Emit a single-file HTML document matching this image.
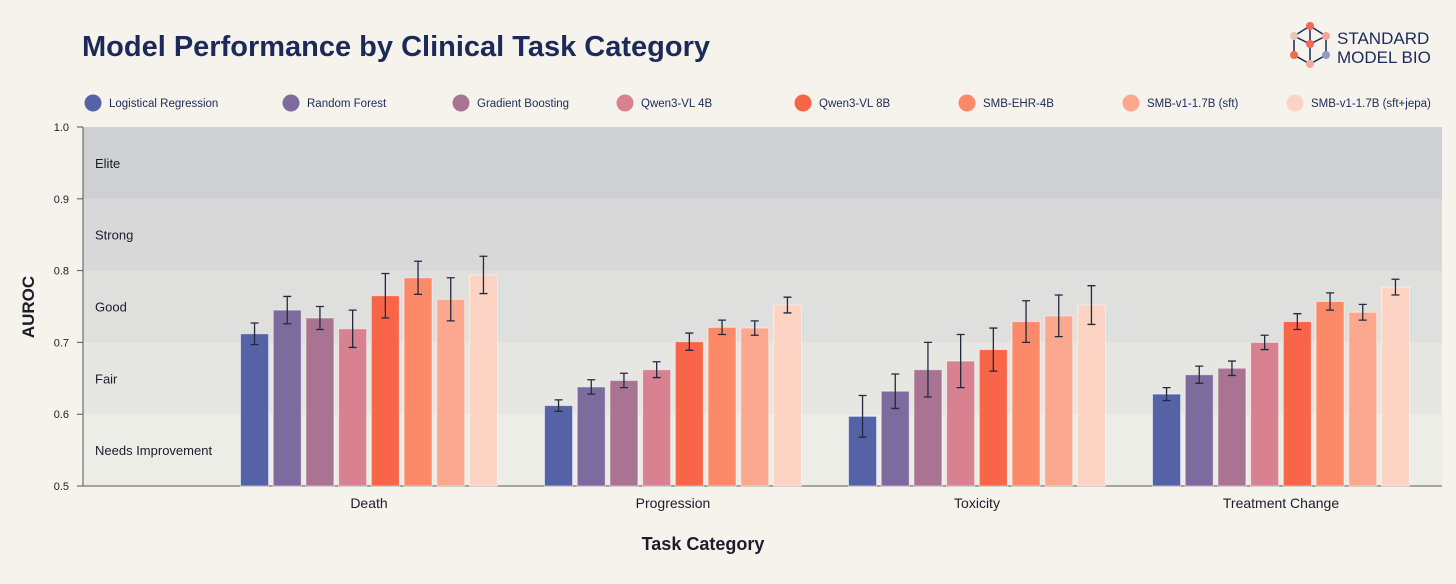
<!DOCTYPE html>
<html><head><meta charset="utf-8">
<style>
body{margin:0;background:#f6f3ec;font-family:"Liberation Sans",sans-serif;}
svg text{font-family:"Liberation Sans",sans-serif;}
</style></head>
<body>
<svg width="1456" height="579" viewBox="0 0 1456 579">
<rect width="1456" height="579" fill="#f6f3ec"/>
<text x="82" y="56" font-size="29" font-weight="bold" fill="#1c2a5a">Model Performance by Clinical Task Category</text>
<g>
 <g stroke="#1c2a5a" stroke-width="1.5" fill="none">
  <path d="M1310 26 L1326 36 L1326 55 L1310 64 L1294 55 L1294 36 Z"/>
  <path d="M1310 26 L1310 44 M1294 36 L1310 44 L1326 36 M1310 44 L1310 64"/>
 </g>
 <circle cx="1310" cy="26" r="4" fill="#f26a4f"/><circle cx="1326" cy="36" r="4" fill="#f4a998"/>
 <circle cx="1294" cy="36" r="4" fill="#e8c8b8"/><circle cx="1310" cy="44" r="4" fill="#f26a4f"/>
 <circle cx="1294" cy="55" r="4" fill="#f26a4f"/><circle cx="1326" cy="55" r="4" fill="#8f9bbf"/>
 <circle cx="1310" cy="64" r="4" fill="#f4a998"/>
 <text x="1337" y="44" font-size="17" fill="#1c2a5a">STANDARD</text>
 <text x="1337" y="63" font-size="17" fill="#1c2a5a">MODEL BIO</text>
</g>
<g id="legend"></g>
<g id="plot"></g>
<text x="703" y="550" font-size="18" fill="#1c1c2a" text-anchor="middle" font-weight="bold">Task Category</text>
<text x="34" y="307" font-size="17" fill="#1c1c2a" text-anchor="middle" font-weight="bold" transform="rotate(-90 34 307)">AUROC</text>
</svg>
<script>
const categories=["Death","Progression","Toxicity","Treatment Change"];
const seriesNames=["Logistical Regression","Random Forest","Gradient Boosting","Qwen3-VL 4B","Qwen3-VL 8B","SMB-EHR-4B","SMB-v1-1.7B (sft)","SMB-v1-1.7B (sft+jepa)"];
const colors=["#5563a6","#7e6b9e","#a87492","#d88190","#f86548","#fc8a68","#fca88e","#fdd3c4"];
const values=[
 [0.712,0.612,0.597,0.628],
 [0.745,0.638,0.632,0.655],
 [0.734,0.647,0.662,0.664],
 [0.719,0.662,0.674,0.700],
 [0.765,0.701,0.690,0.729],
 [0.790,0.721,0.729,0.757],
 [0.760,0.720,0.737,0.742],
 [0.794,0.752,0.752,0.777]];
const errors=[
 [0.015,0.008,0.029,0.009],
 [0.019,0.010,0.024,0.012],
 [0.016,0.010,0.038,0.010],
 [0.026,0.011,0.037,0.010],
 [0.031,0.012,0.030,0.011],
 [0.023,0.010,0.029,0.012],
 [0.030,0.010,0.029,0.011],
 [0.026,0.011,0.027,0.011]];
const yTicks=[0.5,0.6,0.7,0.8,0.9,1.0];
const bandNames=["Needs Improvement","Fair","Good","Strong","Elite"];
const bandColors=["#edede8","#e6e6e2","#dfdfdd","#d8d8d9","#cfd0d3"];
const NS="http://www.w3.org/2000/svg";
const x0=83,x1=1442,yTop=127,yBot=486;
const y=v=>yBot-(v-0.5)/0.5*(yBot-yTop);
const groupC=i=>369+i*304;
const step=32.7,bw=28;
function mk(t,a,p){const e=document.createElementNS(NS,t);for(const k in a)e.setAttribute(k,a[k]);p.appendChild(e);return e;}
const plot=document.getElementById('plot');
bandNames.forEach((n,i)=>{
 const r=mk('rect',{x:x0,y:y(yTicks[i+1]),width:x1-x0,height:y(yTicks[i])-y(yTicks[i+1]),fill:bandColors[i]},plot);
 
 
 const t=mk('text',{x:95,y:(y(yTicks[i])+y(yTicks[i+1]))/2+5,'font-size':13,fill:'#1c1c2a'},plot);t.textContent=n;
 
 
});
mk('line',{x1:x0,y1:yTop,x2:x0,y2:yBot,stroke:'#555',"stroke-width":1},plot);
mk('line',{x1:x0,y1:yBot,x2:x1,y2:yBot,stroke:'#555',"stroke-width":1},plot);
yTicks.forEach(v=>{
 mk('line',{x1:x0-6,y1:y(v),x2:x0,y2:y(v),stroke:'#555'},plot);
 const t=mk('text',{x:x0-14,y:y(v)+4,'font-size':11,fill:'#1c1c2a','text-anchor':'end'},plot);t.textContent=v.toFixed(1);
 
 
});
categories.forEach((c,ci)=>{
 values.forEach((s,si)=>{
  const bx=groupC(ci)-3.5*step+si*step-bw/2, v=s[ci], e=errors[si][ci];
  const r=mk('rect',{x:bx,y:y(v),width:bw,height:yBot-y(v),fill:colors[si],stroke:'rgba(255,255,255,0.5)'},plot);
  
  
  const cx=bx+bw/2;
  mk('path',{d:`M${cx} ${y(v+e)}V${y(v-e)}M${cx-4} ${y(v+e)}H${cx+4}M${cx-4} ${y(v-e)}H${cx+4}`,stroke:'#222a40','stroke-width':1.3,fill:'none'},plot);
 });
 const t=mk('text',{x:groupC(ci),y:508,'font-size':14,fill:'#1c1c2a','text-anchor':'middle'},plot);t.textContent=c;
 
 
});
const lg=document.getElementById('legend');
const lx=[93,291,461,625,803,967,1131,1295];
seriesNames.forEach((n,i)=>{
 const g=mk('g',{},lg);
 
 
 mk('circle',{cx:lx[i],cy:103,r:8.5,fill:colors[i]},g);
 const t=mk('text',{x:lx[i]+16,y:107,'font-size':11.5,fill:'#1c2a5a'},g);t.textContent=n;
});
</script>
</body></html>
